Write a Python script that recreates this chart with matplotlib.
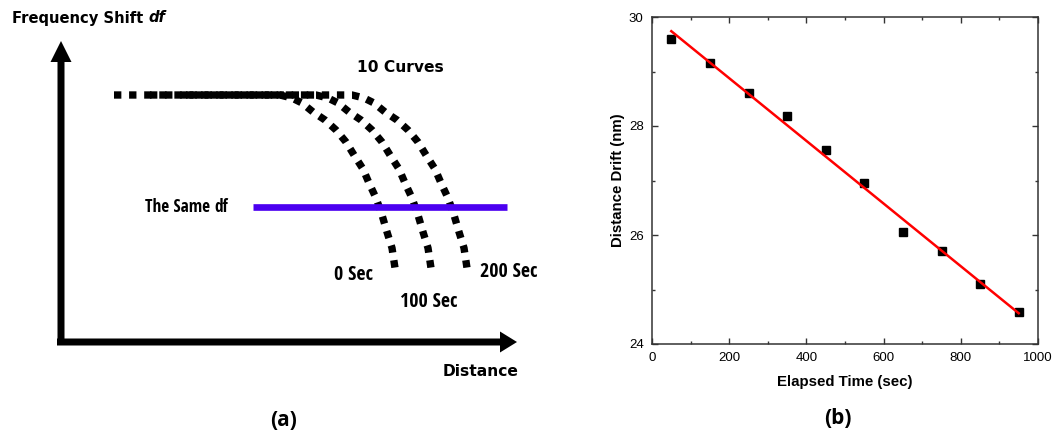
import numpy as np
import matplotlib
matplotlib.use("Agg")
import matplotlib.pyplot as plt
from matplotlib import font_manager as fm

# ---- panel (b) data ----
elapsed_time = [50, 150, 250, 350, 450, 550, 650, 750, 850, 950]
distance_drift = [29.59, 29.16, 28.60, 28.19, 27.56, 26.96, 26.06, 25.71, 25.11, 24.58]
x_ticks = [0, 200, 400, 600, 800, 1000]
y_ticks = [24, 26, 28, 30]

# ---- panel (a) schematic, drawn in pixel units of the left half ----
curve_x = [114, 280, 292, 302, 313, 325, 336, 346, 354, 363, 369, 376, 382, 387, 392, 395]
curve_y = [95, 95, 98, 103, 112, 120, 130, 142, 155, 169, 183, 198, 215, 232, 248, 268]
curve_shifts = [0, 36, 72]
curve_labels = ["0 Sec", "100 Sec", "200 Sec"]
label_pos = [(353, 275), (429, 302), (509, 272)]
same_df_y = 207
same_df_x = [253, 507]

W, H = 1054, 437
fig = plt.figure(figsize=(W / 100, H / 100), dpi=100)

# pick the narrowest bold font around for the condensed labels
narrow = None
narrow_name = ""
for key in ["Open Sans Condensed", "Liberation Sans Narrow", "Roboto Condensed", "Condensed", "Narrow"]:
    for f in fm.fontManager.ttflist:
        if key in f.name and f.weight in ("bold", 700) and f.style == "normal":
            narrow, narrow_name = f.fname, f.name
            break
    if narrow:
        break

if "Open Sans Condensed" in narrow_name:
    lab_size, df_size = 14.3, 12.4
elif "Narrow" in narrow_name:
    lab_size, df_size = 13.5, 11.0
elif narrow:
    lab_size, df_size = 11.0, 9.6
else:
    lab_size, df_size = 10.0, 8.6
narrow_fp = fm.FontProperties(fname=narrow, size=df_size) if narrow else \
    fm.FontProperties(family="DejaVu Sans", weight="bold", size=df_size)

# ---------------- (a) ----------------
axa = fig.add_axes([0, 0, 530 / W, 1])
axa.set_xlim(0, 530)
axa.set_ylim(437, 0)
axa.axis("off")

axa.arrow(61, 345, 0, 41 - 345, width=7, head_width=21, head_length=21,
          length_includes_head=True, color="black", lw=0)
axa.arrow(57, 342, 517 - 57, 0, width=7, head_width=21, head_length=17,
          length_includes_head=True, color="black", lw=0)

for s in curve_shifts:
    xs = np.array(curve_x) + s
    axa.plot(xs, curve_y, color="black", lw=5.3, ls=(0, (1, 1.05)),
             dash_capstyle="butt")

axa.plot(same_df_x, [same_df_y, same_df_y], color="#4B00F0", lw=4.8, solid_capstyle="butt")

bold = dict(family="DejaVu Sans", weight="bold")
t1 = axa.text(12, 18, "Frequency Shift ", fontsize=10.6, va="center", ha="left", **bold)
fig.canvas.draw()
bb = t1.get_window_extent()
inv = axa.transData.inverted()
x_end = inv.transform((bb.x1, bb.y0))[0]
axa.text(x_end, 18, "df", fontsize=10.6, va="center", ha="left", style="italic", **bold)

axa.text(400, 67, "10 Curves", fontsize=11.2, va="center", ha="center", **bold)
axa.text(481, 372, "Distance", fontsize=11.2, va="center", ha="center", **bold)

t2 = axa.text(145, same_df_y, "The Same ", va="center", ha="left", fontproperties=narrow_fp)
fig.canvas.draw()
bb = t2.get_window_extent()
x_end = inv.transform((bb.x1, bb.y0))[0]
fp_it = fm.FontProperties(family=narrow_fp.get_family() if not narrow else narrow_name,
                          weight="bold", style="italic", size=df_size)
axa.text(x_end, same_df_y, "df", va="center", ha="left", fontproperties=fp_it)

big = narrow_fp.copy()
big.set_size(lab_size)
for lab, (lx, ly) in zip(curve_labels, label_pos):
    axa.text(lx, ly, lab, va="center", ha="center", fontproperties=big)

fig.text(284 / W, 1 - 420 / H, "(a)", fontsize=15, weight="bold", family="Open Sans",
         ha="center", va="center")

# ---------------- (b) ----------------
L, R, T, B = 652, 1038, 17, 344
axb = fig.add_axes([L / W, 1 - B / H, (R - L) / W, (B - T) / H])
axb.plot(elapsed_time, distance_drift, "s", color="black", ms=6)
k, b0 = np.polyfit(elapsed_time, distance_drift, 1)
xfit = np.array([elapsed_time[0], elapsed_time[-1]])
axb.plot(xfit, k * xfit + b0, color="red", lw=1.8)

axb.set_xlim(0, 1000)
axb.set_ylim(24, 30)
axb.set_xticks(x_ticks)
axb.set_yticks(y_ticks)
axb.set_xticks(np.arange(100, 1000, 200), minor=True)
axb.set_yticks([25, 27, 29], minor=True)
axb.tick_params(which="both", direction="in", top=True, right=True, width=1, color="#333333")
axb.tick_params(which="major", length=4, labelsize=9.5, pad=6)
axb.tick_params(which="minor", length=2.5)
for lab in axb.get_xticklabels() + axb.get_yticklabels():
    lab.set_family("Liberation Sans")
for sp in axb.spines.values():
    sp.set_color("#333333")
    sp.set_linewidth(1.1)
axb.set_xlabel("Elapsed Time (sec)", family="Liberation Sans", weight="bold", fontsize=10.8, labelpad=8)
axb.set_ylabel("Distance Drift (nm)", family="Liberation Sans", weight="bold", fontsize=10.8, labelpad=3)

fig.text(838 / W, 1 - 418 / H, "(b)", fontsize=15, weight="bold", family="Open Sans",
         ha="center", va="center")

fig.savefig("out.png", dpi=100)
